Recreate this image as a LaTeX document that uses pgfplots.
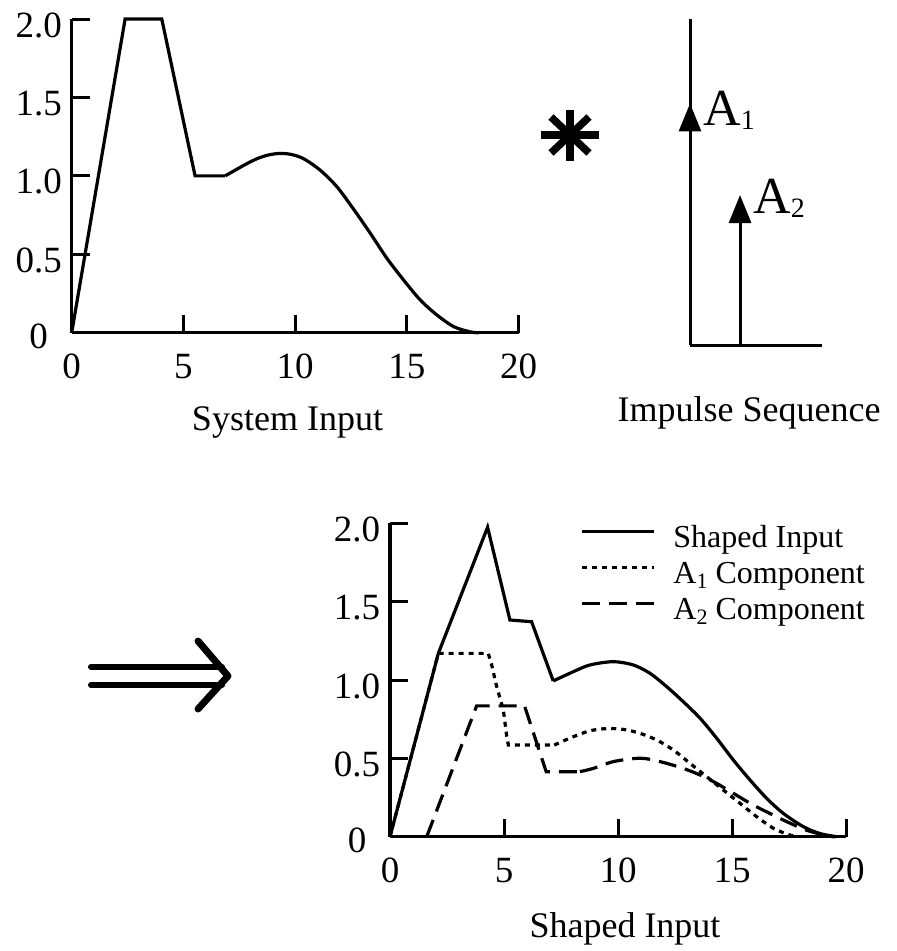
\documentclass[border=0pt]{standalone}
\usepackage{fontspec}
\setmainfont{Liberation Serif}
\usepackage{pgfplots}
\pgfplotsset{compat=1.18}
\usetikzlibrary{arrows.meta}

\pgfplotsset{
  myax/.style={
    scale only axis, axis lines*=left,
    xmin=0, xmax=20, ymin=0, ymax=2,
    axis line style={line width=3.2pt},
    major tick style={line width=3pt, black},
    major tick length=18pt, tick align=inside,
    xtick={0,5,10,15,20}, xticklabels={0,5,10,15,20},
    ytick={0,0.5,1,1.5,2}, yticklabels={\raisebox{6pt}{0},0.5,1.0,1.5,2.0},
    tick label style={font=\fontsize{37}{40}\selectfont},
    /pgf/number format/assume math mode=true,
    xticklabel style={yshift=-18pt},
    yticklabel style={anchor=center, xshift=-33pt, yshift=-6pt},
    clip=false,
  },
  curve/.style={line width=3.2pt, black},
}

\begin{document}
\begin{tikzpicture}
\path[use as bounding box] (0pt,0pt) rectangle (897pt,-951pt);

% ---------- System input ----------
\begin{axis}[myax, at={(71.7pt,-332.7pt)}, anchor=south west,
  width=447pt, height=313.7pt]
\addplot[curve] coordinates {(0,0) (2.39,2.0) (4.03,2.0) (5.52,1.0) (6.87,1.0)};
\addplot[curve, smooth, tension=0.5] coordinates {
(6.87,1.0) (7.3,1.035) (7.8,1.075) (8.3,1.11) (8.8,1.133) (9.3,1.143)
(9.8,1.137) (10.37,1.11) (11.12,1.036) (11.87,0.93) (12.6,0.79)
(13.36,0.634) (14.1,0.475) (14.85,0.336) (15.6,0.208) (16.34,0.113)
(17.1,0.038) (17.84,0.005) (18.2,0)};
\end{axis}
\node[anchor=base] at (287.5pt,-430pt) {\fontsize{36}{40}\selectfont System Input};

% ---------- convolution symbol ----------
\begin{scope}[line width=7.5pt]
\draw (541pt,-135pt) -- (599pt,-135pt);
\draw (570pt,-110pt) -- (570pt,-161pt);
\draw (551pt,-117pt) -- (589pt,-153pt);
\draw (551pt,-153pt) -- (589pt,-117pt);
\end{scope}

% ---------- Impulse sequence ----------
\begin{axis}[scale only axis, at={(690pt,-345pt)}, anchor=south west,
  width=132pt, height=326pt, xmin=0, xmax=1, ymin=0, ymax=1,
  axis lines*=left, axis line style={line width=3pt},
  xtick=\empty, ytick=\empty, clip=false]
\addplot[line width=3pt, -{Triangle[length=28pt,width=22pt]}] coordinates {(0,0) (0,0.741)};
\addplot[line width=3pt, -{Triangle[length=28pt,width=22pt]}] coordinates {(0.379,0) (0.379,0.46)};
\end{axis}
\node[anchor=base west, inner sep=0pt] at (703pt,-125pt)
  {\fontsize{52}{56}\selectfont A\raisebox{-4pt}{\fontsize{28}{30}\selectfont 1}};
\node[anchor=base west, inner sep=0pt] at (753pt,-213pt)
  {\fontsize{52}{56}\selectfont A\raisebox{-4pt}{\fontsize{28}{30}\selectfont 2}};
\node[anchor=base] at (749pt,-421.7pt) {\fontsize{36}{40}\selectfont Impulse Sequence};

% ---------- implies arrow ----------
\begin{scope}[line cap=round, line join=round]
\draw[line width=6pt] (91pt,-666.7pt) -- (222pt,-666.7pt);
\draw[line width=6pt] (91pt,-685pt) -- (222pt,-685pt);
\draw[line width=7pt] (198pt,-641pt) -- (228pt,-676pt) -- (198pt,-709pt);
\end{scope}

% ---------- Shaped input ----------
\begin{axis}[myax, at={(390pt,-836.7pt)}, anchor=south west,
  width=456pt, height=313.4pt,
  legend style={draw=none, fill=none, anchor=north west, at={(0.4167,1.0)},
    inner sep=0pt, column sep=18pt,
    nodes={inner sep=0pt, text height=24pt, text depth=12pt},
    font=\fontsize{32}{36}\selectfont},
  legend cell align=left,
  legend image code/.code={\draw[#1] (0pt,10pt) -- (72pt,10pt);}]
% Shaped input
\addplot[curve] coordinates {(0,0) (2.12,1.17) (4.28,1.975) (5.26,1.383) (6.21,1.372) (7.16,0.994)};
\addlegendentry{Shaped Input}
\addplot[curve, dash pattern=on 5pt off 5pt] coordinates {(0,0) (2.12,1.17) (4.31,1.17) (4.46,1.096) (4.68,0.957) (4.97,0.81) (5.12,0.64) (5.19,0.585) (7.2,0.585)};
\addlegendentry{A\raisebox{-5pt}{\fontsize{22}{24}\selectfont 1} Component}
\addplot[curve, dash pattern=on 18pt off 9pt] coordinates {(1.61,0) (3.80,0.835) (5.9,0.835) (6.85,0.415) (8.33,0.415)};
\addlegendentry{A\raisebox{-5pt}{\fontsize{22}{24}\selectfont 2} Component}
% smooth tails
\addplot[curve, smooth, tension=0.5, forget plot] coordinates {
(7.16,0.994) (8.04,1.053) (8.77,1.096) (9.79,1.117) (10.67,1.096) (11.4,1.043)
(12.14,0.957) (12.86,0.862) (13.6,0.756) (14.33,0.628) (15.06,0.489)
(15.79,0.362) (16.52,0.245) (17.25,0.149) (18.13,0.064) (18.86,0.02) (19.6,0)};
\addplot[curve, smooth, tension=0.5, forget plot, dash pattern=on 5pt off 5pt] coordinates {
(7.2,0.585) (8.04,0.638) (8.77,0.676) (9.5,0.69) (10.23,0.685) (10.96,0.66)
(11.7,0.617) (12.43,0.553) (13.16,0.468) (13.89,0.383) (14.62,0.298)
(15.35,0.213) (16.08,0.128) (16.81,0.054) (17.4,0.018) (17.8,0)};
\addplot[curve, smooth, tension=0.5, forget plot, dash pattern=on 18pt off 9pt] coordinates {
(8.33,0.415) (8.92,0.436) (9.79,0.479) (10.82,0.50) (11.4,0.494) (12.14,0.468)
(12.86,0.436) (13.6,0.394) (14.33,0.34) (15.06,0.277) (15.93,0.202)
(16.81,0.138) (17.4,0.096) (18.3,0.04) (19.2,0.005) (19.5,0)};
\end{axis}
\node[anchor=base] at (625pt,-937pt) {\fontsize{36}{40}\selectfont Shaped Input};
\end{tikzpicture}
\end{document}
